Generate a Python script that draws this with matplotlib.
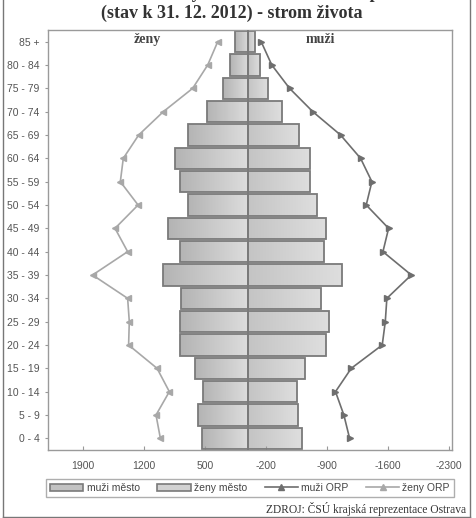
import matplotlib
matplotlib.use('Agg')
import matplotlib.pyplot as plt
import numpy as np
from matplotlib.colors import LinearSegmentedColormap
from matplotlib.patches import Patch
from matplotlib.lines import Line2D

# age groups, bottom to top
ages = ['0 - 4', '5 - 9', '10 - 14', '15 - 19', '20 - 24', '25 - 29', '30 - 34',
        '35 - 39', '40 - 44', '45 - 49', '50 - 54', '55 - 59', '60 - 64',
        '65 - 69', '70 - 74', '75 - 79', '80 - 84', '85 +']

# city (město) - bars
zeny_mesto = [537, 583, 518, 610, 790, 782, 774, 978, 785, 923, 690, 785, 848,
              690, 475, 296, 207, 158]
muzi_mesto = [618, 567, 556, 648, 894, 920, 831, 1073, 866, 894, 790, 705, 702,
              580, 387, 222, 138, 77]

# ORP - lines
zeny_orp = [1012, 1062, 909, 1050, 1377, 1369, 1388, 1791, 1388, 1533, 1268,
            1472, 1438, 1261, 978, 641, 468, 353]
muzi_orp = [1162, 1096, 1000, 1181, 1537, 1572, 1590, 1871, 1545, 1610, 1353,
            1418, 1288, 1058, 739, 472, 268, 146]

xticks = [1900, 1200, 500, -200, -900, -1600, -2300]

SANS = 'Liberation Sans'
SERIF = 'Liberation Serif'
EDGE = '#7a7a7a'
MEN_LINE = '#6e6e6e'
WOMEN_LINE = '#a8a8a8'


def gradient_fill(ax, bars, c0, c1):
    cmap = LinearSegmentedColormap.from_list('g', [c0, c1])
    grad = np.linspace(0, 1, 64).reshape(1, -1)
    for b in bars:
        x0, w = b.get_x(), b.get_width()
        y0, h = b.get_y(), b.get_height()
        im = ax.imshow(grad, cmap=cmap, aspect='auto', origin='lower',
                       extent=[max(x0, x0 + w), min(x0, x0 + w), y0, y0 + h],
                       zorder=1, interpolation='bilinear')
        im.set_clip_path(b)


fig = plt.figure(figsize=(4.77, 5.18), dpi=100)
ax = fig.add_axes([48 / 477, 1 - 450 / 518, (451.7 - 48) / 477, 420 / 518])

y = np.arange(len(ages))
bw = ax.barh(y, zeny_mesto, height=0.92, facecolor='none', edgecolor=EDGE,
             linewidth=1.3, zorder=2)
bm = ax.barh(y, [-v for v in muzi_mesto], height=0.92, facecolor='none',
             edgecolor=EDGE, linewidth=1.3, zorder=2)
gradient_fill(ax, bw, '#b4b4b4', '#dddddd')
gradient_fill(ax, bm, '#c4c4c4', '#dedede')
ax.axvline(0, color=EDGE, linewidth=1.3, zorder=3)

ax.plot([-v for v in muzi_orp], y, color=MEN_LINE, linewidth=1.2,
        marker='>', markersize=5, zorder=4)
ax.plot(zeny_orp, y, color=WOMEN_LINE, linewidth=1.2,
        marker='<', markersize=5, zorder=4)

ax.set_xlim(2303, -2335)
ax.set_ylim(-0.5, 17.5)
ax.set_xticks(xticks)
ax.set_xticklabels([str(v) for v in xticks], fontfamily=SANS, fontsize=7.5,
                   color='#555555')
ax.set_yticks(y)
ax.set_yticklabels(ages, fontfamily=SANS, fontsize=7.5, color='#555555')
ax.tick_params(axis='x', direction='in', length=3, color='#999999', pad=8)
ax.tick_params(axis='y', direction='out', length=2, color='#999999', pad=4)
for s in ax.spines.values():
    s.set_color('#9a9a9a')
    s.set_linewidth(1.0)

ax.text(1160, 17.1, 'ženy', ha='center', va='center', fontfamily=SERIF,
        fontweight='bold', fontsize=10, color='#444444')
ax.text(-830, 17.1, 'muži', ha='center', va='center', fontfamily=SERIF,
        fontweight='bold', fontsize=10, color='#444444')

fig.text(232 / 477, 1 - 13 / 518, '(stav k 31. 12. 2012) - strom života',
         ha='center', va='center', fontfamily=SERIF, fontweight='bold',
         fontsize=13, color='#333333')
fig.text(232 / 477, 1 + 7 / 518, 'Věková struktura obyvatel města a ORP Kopřivnice',
         ha='center', va='center', fontfamily=SERIF, fontweight='bold',
         fontsize=13, color='#333333')

handles = [Patch(facecolor='#c2c2c2', edgecolor=EDGE, linewidth=1.2, label='muži město'),
           Patch(facecolor='#d2d2d2', edgecolor=EDGE, linewidth=1.2, label='ženy město'),
           Line2D([], [], color=MEN_LINE, marker='^', markersize=4, linewidth=1.2,
                  label='muži ORP'),
           Line2D([], [], color=WOMEN_LINE, marker='^', markersize=4, linewidth=1.2,
                  label='ženy ORP')]
leg = fig.legend(handles=handles, loc='center', ncol=4,
                 bbox_to_anchor=(250 / 477, 1 - 488 / 518), frameon=True,
                 fancybox=False, prop={'family': SANS, 'size': 7.5},
                 handlelength=3.2, handleheight=0.7, handletextpad=0.3,
                 columnspacing=1.7, borderpad=0.4, edgecolor='#9a9a9a')
leg.get_frame().set_linewidth(1.0)
for t in leg.get_texts():
    t.set_color('#444444')

fig.text(466 / 477, 1 - 509 / 518, 'ZDROJ: ČSÚ krajská reprezentace Ostrava',
         ha='right', va='center', fontfamily=SERIF, fontsize=8.3, color='#333333')

# outer frame
fig.add_artist(Line2D([2.5 / 477, 2.5 / 477], [0, 1], color='#777777', linewidth=1.0))
fig.add_artist(Line2D([470 / 477, 470 / 477], [0, 1], color='#777777', linewidth=1.0))
fig.add_artist(Line2D([2.5 / 477, 470 / 477], [1.5 / 518, 1.5 / 518], color='#777777',
                      linewidth=1.0))

fig.savefig('out.png', dpi=100)
